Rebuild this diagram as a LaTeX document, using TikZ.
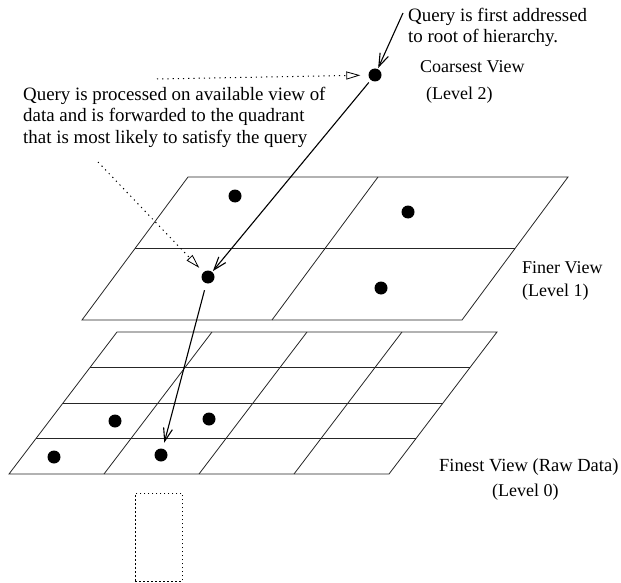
\documentclass[tikz,border=0pt]{standalone}
\usepackage{fontspec}
\setmainfont{Liberation Serif}
\usetikzlibrary{arrows.meta}
\begin{document}
\begin{tikzpicture}[x=1pt,y=-1pt,
  plane/.style={line width=0.8pt, draw=black!85},
  dot/.style={circle, fill=black, inner sep=0pt, minimum size=13pt},
  flow/.style={line width=1.1pt, -{Straight Barb[length=13pt,width=9pt,line width=1.1pt]}},
  hint/.style={line width=1pt, dash pattern=on 1.2pt off 4pt, -{Triangle[open,length=14pt,width=8pt,line width=0.8pt]}},
  lbl/.style={font=\fontsize{18}{21.5}\selectfont, inner sep=0pt, anchor=west, align=left},
  note/.style={font=\fontsize{18.9}{21.5}\selectfont, inner sep=0pt, anchor=west, align=left}]
\useasboundingbox (0,0) rectangle (621,583);

% Level 1 plane (2x2)
\draw[plane] (188,177) -- (568,177) -- (462,320) -- (82,320) -- cycle;
\draw[plane] (135,248.5) -- (515,248.5);
\draw[plane] (378,177) -- (272,320);

% Level 0 plane (4x4)
\draw[plane] (117,332) -- (497,332) -- (389,474) -- (9,474) -- cycle;
\foreach \i in {1,2,3} \draw[plane] ({117-108*\i/4},{332+142*\i/4}) -- ++(380,0);
\foreach \j in {1,2,3} \draw[plane] ({117+95*\j},332) -- ++(-108,142);

% dots
\node[dot] (top) at (375,75) {};
\node[dot] (m1) at (235,196) {};
\node[dot] (m2) at (408,212) {};
\node[dot] (m3) at (208,277) {};
\node[dot] (m4) at (381,288) {};
\node[dot] (b1) at (115,421) {};
\node[dot] (b2) at (209,419) {};
\node[dot] (b3) at (54,457) {};
\node[dot] (b4) at (161,455) {};

% texts
\node[note] (q1) at (408,27.5) {Query is first addressed\\to root of hierarchy.};
\node[lbl] (l2a) at (420,67) {Coarsest View};
\node[lbl] (l2b) at (426,95) {(Level 2)};
\node[note] (q2) at (23,117) {Query is processed on available view of\\data and is forwarded to the quadrant\\that is most likely to satisfy the query};
\node[lbl] (l1a) at (522,268) {Finer View};
\node[lbl] (l1b) at (522,292) {(Level 1)};
\node[lbl, font=\fontsize{18.5}{21.5}\selectfont] (l0a) at (439,467) {Finest View (Raw Data)};
\node[lbl] (l0b) at (492,492) {(Level 0)};

% connectors
\coordinate (qin) at (403,13);
\coordinate (h1) at (157,79);
\coordinate (h2) at (98,162);
\draw[flow, shorten >=1pt] (qin) -- (top);
\draw[flow, shorten <=3pt, shorten >=1pt] (top) -- (m3);
\draw[flow, shorten <=7pt, shorten >=6pt] (m3) -- (b4);
\draw[hint, shorten >=8pt] (h1) -- (top);
\draw[hint, shorten >=6pt] (h2) -- (m3);

% dotted box
\node[draw, line width=0.8pt, dash pattern=on 1.5pt off 2.5pt, inner sep=0pt,
  minimum width=47pt, minimum height=88pt, anchor=north west] (box) at (135,493) {};
\end{tikzpicture}
\end{document}
